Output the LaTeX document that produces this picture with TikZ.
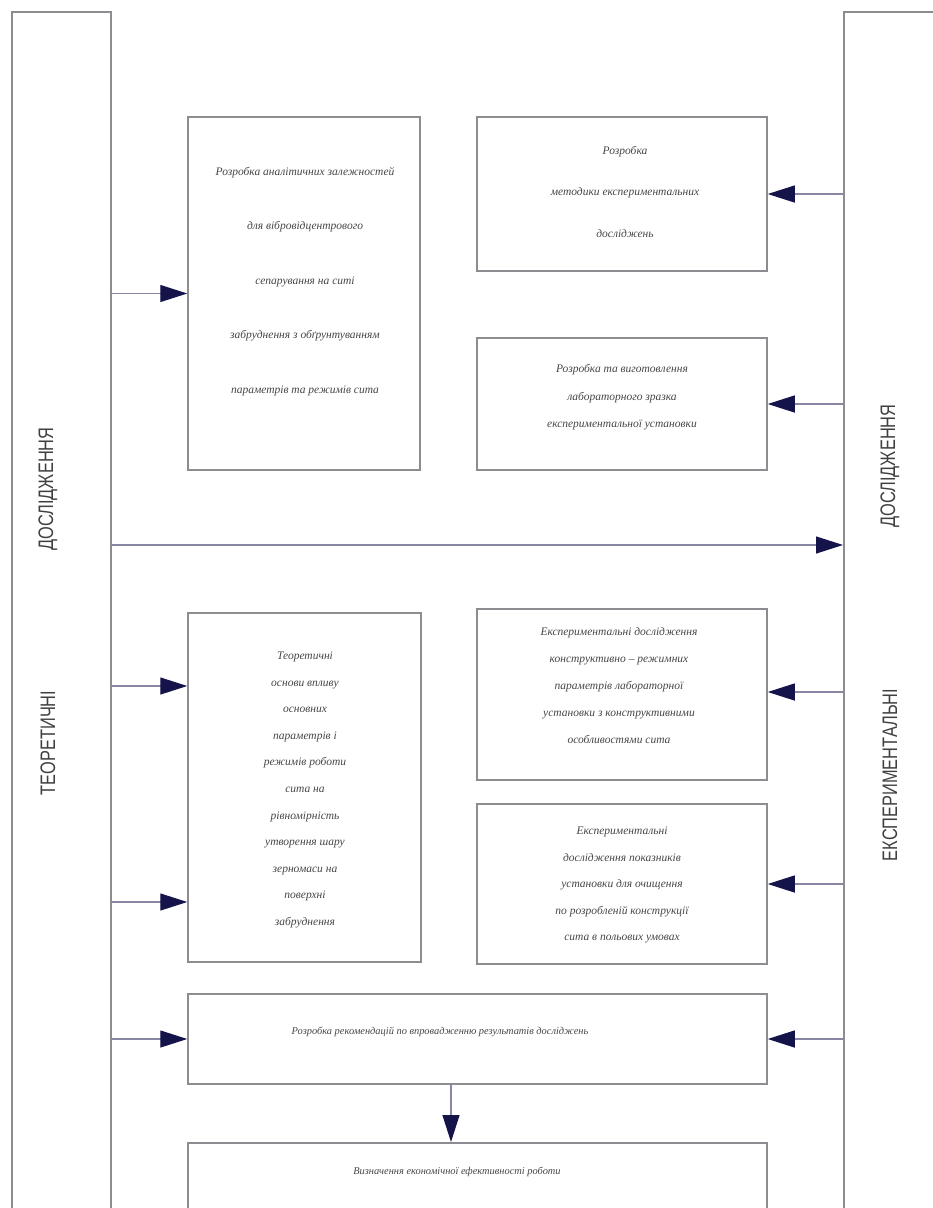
\documentclass[tikz,border=0pt]{standalone}
\usepackage{fontspec}
\setmainfont{Liberation Serif}
\newfontfamily\sidefont[FakeStretch=0.78]{Liberation Sans}
\usetikzlibrary{arrows.meta}
\definecolor{boxgray}{RGB}{140,140,145}
\definecolor{linegray}{RGB}{135,135,165}
\definecolor{headblue}{RGB}{20,20,75}
\definecolor{txtgray}{RGB}{70,70,70}
\tikzset{
 box/.style={draw=boxgray, line width=1.5pt, inner sep=0pt, fill=white},
 side/.style={draw=boxgray, line width=1.5pt, inner sep=0pt},
 conn/.style={draw=linegray, line width=1.2pt, -{Triangle[length=27pt,width=17pt,fill=headblue,color=headblue]}},
 txt/.style={font=\fontsize{11.5}{#1}\selectfont\itshape, text=txtgray, align=center, inner sep=0pt},
 stxt/.style={font=\fontsize{10.4}{14}\selectfont\itshape, text=txtgray, align=center, inner sep=0pt},
 lbl/.style={font=\sidefont\fontsize{21}{21}\selectfont, text=black!75, rotate=90, inner sep=0pt}
}
\begin{document}
\begin{tikzpicture}[x=1pt,y=-1pt]
\useasboundingbox (0,0) rectangle (933,1208);
\clip (0,0) rectangle (933,1208);
% side columns
\node[side, minimum width=99pt, minimum height=1230pt, anchor=north west] (lt) at (11,11) {};
\node[side, minimum width=110pt, minimum height=1230pt, anchor=north west] (rt) at (843,11) {};
\node[lbl] (lt1) at (48,489) {ДОСЛІДЖЕННЯ};
\node[lbl] (lt2) at (48,743) {ТЕОРЕТИЧНІ};
\node[lbl] (rt1) at (890,466) {ДОСЛІДЖЕННЯ};
\node[lbl] (rt2) at (890,775) {ЕКСПЕРИМЕНТАЛЬНІ};
% boxes
\node[box, minimum width=232pt, minimum height=353pt] (b1) at (304,293.5) {};
\node[box, minimum width=290pt, minimum height=154pt] (b2) at (622,194) {};
\node[box, minimum width=290pt, minimum height=132pt] (b3) at (622,404) {};
\node[box, minimum width=233pt, minimum height=349pt] (b4) at (304.5,787.5) {};
\node[box, minimum width=290pt, minimum height=171pt] (b5) at (622,694.5) {};
\node[box, minimum width=290pt, minimum height=160pt] (b6) at (622,884) {};
\node[box, minimum width=579pt, minimum height=90pt] (b7) at (477.5,1039) {};
\node[box, minimum width=579pt, minimum height=100pt, anchor=north] (b8) at (477.5,1142) {};
% texts
\node[txt=54.5] (t1) at (305,281.5) {Розробка аналітичних залежностей\\для вібровідцентрового\\сепарування на ситі\\забруднення з обґрунтуванням\\параметрів та режимів сита};
\node[txt=41.5] (t2) at (625,191.5) {Розробка\\методики експериментальних\\досліджень};
\node[txt=27.5] (t3) at (622,397.5) {Розробка та виготовлення\\лабораторного зразка\\експериментальної установки};
\node[txt=26.6] (t4) at (305,790) {Теоретичні\\основи впливу\\основних\\параметрів і\\режимів роботи\\сита на\\рівномірність\\утворення шару\\зерномаси на\\поверхні\\забруднення};
\node[txt=27] (t5) at (619,686) {Експериментальні дослідження\\конструктивно – режимних\\параметрів лабораторної\\установки з конструктивними\\особливостями сита};
\node[txt=26.5] (t6) at (622,885) {Експериментальні\\дослідження показників\\установки для очищення\\по розробленій конструкції\\сита в польових умовах};
\node[stxt] (t7) at (440,1032) {Розробка рекомендацій по впровадженню результатів досліджень};
\node[stxt] (t8) at (457,1172) {Визначення економічної ефективності роботи};
% connectors
\draw[conn] (lt.east |- b1.west) -- (b1.west);
\draw[conn] (rt.west |- b2.east) -- (b2.east);
\draw[conn] (rt.west |- b3.east) -- (b3.east);
\draw[conn] (lt.east |- 0,545) -- (rt.west |- 0,545);
\draw[conn] (lt.east |- 0,686) -- (b4.west |- 0,686);
\draw[conn] (lt.east |- 0,902) -- (b4.west |- 0,902);
\draw[conn] (rt.west |- 0,692) -- (b5.east |- 0,692);
\draw[conn] (rt.west |- b6.east) -- (b6.east);
\draw[conn] (lt.east |- b7.west) -- (b7.west);
\draw[conn] (rt.west |- b7.east) -- (b7.east);
\draw[conn] (b7.south -| 451,0) -- (b8.north -| 451,0);
\end{tikzpicture}
\end{document}
